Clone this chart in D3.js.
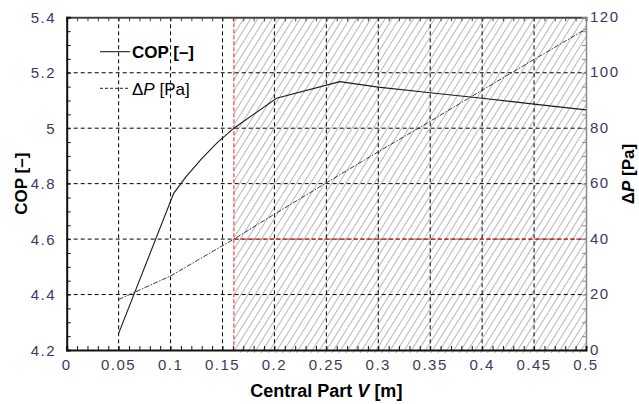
<!DOCTYPE html>
<html>
<head>
<meta charset="utf-8">
<script src="https://cdn.jsdelivr.net/npm/d3@7"></script>
<style>
  html, body { margin: 0; padding: 0; background: #fff; }
  svg { display: block; }
  .tick-label { font-family: "Liberation Sans", Arial, sans-serif; font-size: 15px; fill: #3a3a60; letter-spacing: 1.5px; }
  .title { font-family: "Liberation Sans", Arial, sans-serif; font-weight: bold; fill: #000; }
</style>
</head>
<body>
<svg id="chart" width="639" height="404"></svg>
<script>
// Central part width V [m] and the two responses
const copX = [0.05, 0.103, 0.115, 0.13, 0.145, 0.161, 0.202, 0.263, 0.3, 0.35, 0.4, 0.45, 0.5];
const copY = [4.26, 4.765, 4.825, 4.89, 4.948, 5.0, 5.108, 5.168, 5.148, 5.128, 5.108, 5.087, 5.066];
const dpX = [0.05, 0.1, 0.161, 0.2, 0.25, 0.3, 0.35, 0.4, 0.45, 0.5];
const dpY = [18.2, 26.7, 40, 49, 60.3, 71.5, 82.5, 93.7, 104.8, 115.8];

// Tick values
const xTicks = [0, 0.05, 0.1, 0.15, 0.2, 0.25, 0.3, 0.35, 0.4, 0.45, 0.5];
const copTicks = [4.2, 4.4, 4.6, 4.8, 5, 5.2, 5.4];
const dpTicks = [0, 20, 40, 60, 80, 100, 120];

// Feasible-region limits (red dashed)
const limitV = 0.161;
const limitCOP = 4.6;

const svg = d3.select("#chart");
const L = 66.7, R = 586, T = 17.3, B = 350;

const x = d3.scaleLinear().domain([0, 0.5]).range([L, R]);
const y = d3.scaleLinear().domain([4.2, 5.4]).range([B, T]);
const y2 = d3.scaleLinear().domain([0, 120]).range([B, T]);

// Hatch pattern
const defs = svg.append("defs");
const pat = defs.append("pattern")
  .attr("id", "hatch").attr("patternUnits", "userSpaceOnUse")
  .attr("width", 6).attr("height", 6)
  .attr("patternTransform", "rotate(32)");
pat.append("line").attr("x1", 0).attr("y1", 0).attr("x2", 0).attr("y2", 6)
  .attr("stroke", "#7a7a7a").attr("stroke-width", 1.1);

svg.append("rect")
  .attr("x", x(limitV)).attr("y", T)
  .attr("width", x(0.5) - x(limitV)).attr("height", B - T + 3)
  .attr("fill", "url(#hatch)");

// Grid
const grid = svg.append("g").attr("stroke", "#000").attr("stroke-width", 1)
  .attr("stroke-dasharray", "4,3").attr("fill", "none");
xTicks.filter(v => v > 0 && v < 0.5).forEach(v => {
  grid.append("line").attr("x1", x(v)).attr("x2", x(v)).attr("y1", T).attr("y2", B);
});
copTicks.filter(v => v > 4.2 && v < 5.4).forEach(v => {
  grid.append("line").attr("x1", L).attr("x2", R).attr("y1", y(v)).attr("y2", y(v));
});

// Red limit lines
const red = svg.append("g").attr("stroke", "#ff1a1a").attr("stroke-width", 1)
  .attr("stroke-dasharray", "4,2").attr("fill", "none");
red.append("line").attr("x1", x(limitV)).attr("x2", x(limitV)).attr("y1", T).attr("y2", B);
red.append("line").attr("x1", x(limitV)).attr("x2", R).attr("y1", y(limitCOP)).attr("y2", y(limitCOP));

// Axes frame with inward minor ticks
const frame = svg.append("g");
const minorX = d3.range(0, 0.5001, 0.01);
const minorCOP = d3.range(4.2, 5.4001, 0.05);
const minorDP = d3.range(0, 120.001, 5);

const xAxisB = d3.axisBottom(x).tickValues(minorX).tickSize(-4).tickFormat("");
const xAxisT = d3.axisTop(x).tickValues(minorX).tickSize(-4).tickFormat("");
const yAxisL = d3.axisLeft(y).tickValues(minorCOP).tickSize(-4).tickFormat("");
const yAxisR = d3.axisRight(y2).tickValues(minorDP).tickSize(-4).tickFormat("");

function styleAxis(g, color, w) {
  g.select(".domain").attr("stroke", color).attr("stroke-width", w);
  g.selectAll(".tick line").attr("stroke", color).attr("stroke-width", 1);
}
frame.append("g").attr("transform", `translate(0,${T})`).call(xAxisT).call(g => styleAxis(g, "#444", 2));
frame.append("g").attr("transform", `translate(${R},0)`).call(yAxisR).call(g => styleAxis(g, "#8a8a8a", 1.5));
frame.append("g").attr("transform", `translate(0,${B})`).call(xAxisB).call(g => styleAxis(g, "#111", 2));
frame.append("g").attr("transform", `translate(${L},0)`).call(yAxisL).call(g => styleAxis(g, "#111", 2));
svg.selectAll(".domain").attr("fill", "none");

// Tick labels
const fmt = v => String(+v.toFixed(2));
svg.append("g").selectAll("text").data(xTicks).join("text")
  .attr("class", "tick-label").attr("x", d => x(d)).attr("y", 370)
  .attr("text-anchor", "middle").text(fmt);
svg.append("g").selectAll("text").data(copTicks).join("text")
  .attr("class", "tick-label").attr("x", 56).attr("y", d => y(d) + 5.5)
  .attr("text-anchor", "end").text(fmt);
svg.append("g").selectAll("text").data(dpTicks).join("text")
  .attr("class", "tick-label").attr("x", 590).attr("y", d => y2(d) + 4.5)
  .attr("text-anchor", "start").text(fmt);

// Data lines
const copLine = d3.line().x((d, i) => x(copX[i])).y(d => y(d));
const dpLine = d3.line().x((d, i) => x(dpX[i])).y(d => y2(d));

svg.append("path").datum(copY).attr("d", copLine)
  .attr("fill", "none").attr("stroke", "#1a1a1a").attr("stroke-width", 1.1);
svg.append("path").datum(dpY).attr("d", dpLine)
  .attr("fill", "none").attr("stroke", "#222").attr("stroke-width", 0.9)
  .attr("stroke-dasharray", "5,1.5,1.5,1.5");

// Legend
const lg = svg.append("g");
lg.append("line").attr("x1", 100).attr("x2", 130).attr("y1", 51.7).attr("y2", 51.7)
  .attr("stroke", "#222").attr("stroke-width", 1.1);
lg.append("text").attr("class", "title").attr("x", 132).attr("y", 58)
  .attr("font-size", 17).text("COP [–]");
lg.append("line").attr("x1", 100).attr("x2", 130).attr("y1", 88.3).attr("y2", 88.3)
  .attr("stroke", "#222").attr("stroke-width", 1).attr("stroke-dasharray", "3,2");
const lt = lg.append("text").attr("x", 132).attr("y", 95)
  .attr("font-family", "Liberation Sans, Arial, sans-serif").attr("font-size", 17).attr("fill", "#000");
lt.append("tspan").text("Δ");
lt.append("tspan").attr("font-style", "italic").text("P");
lt.append("tspan").text(" [Pa]");

// Axis titles
const xt = svg.append("text").attr("class", "title").attr("font-size", 18)
  .attr("x", (L + R) / 2).attr("y", 397).attr("text-anchor", "middle");
xt.append("tspan").text("Central Part ");
xt.append("tspan").attr("font-style", "italic").text("V");
xt.append("tspan").text("  [m]");

svg.append("text").attr("class", "title").attr("font-size", 17)
  .attr("transform", `translate(27,${(T + B) / 2}) rotate(-90)`)
  .attr("text-anchor", "middle").text("COP [–]");

const rt = svg.append("text").attr("class", "title").attr("font-size", 17)
  .attr("transform", `translate(634,174) rotate(-90)`)
  .attr("text-anchor", "middle");
rt.append("tspan").text("Δ");
rt.append("tspan").attr("font-style", "italic").text("P");
rt.append("tspan").text(" [Pa]");
</script>
</body>
</html>
